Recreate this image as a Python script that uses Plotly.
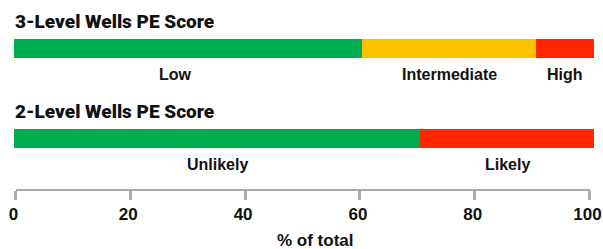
import plotly.graph_objects as go

W, H = 603, 249

# ---- data ----
groups = ["3-Level Wells PE Score", "2-Level Wells PE Score"]
seg_labels = [["Low", "Intermediate", "High"], ["Unlikely", "Likely"]]
seg_values = [[60, 30, 10], [70, 30]]
seg_colors = [["#00AD4E", "#FFC000", "#FF2600"], ["#00AD4E", "#FF2600"]]
tick_vals = [0, 20, 40, 60, 80, 100]
axis_title = "% of total"

def px(p):
    return p / W

def py(p):
    return 1 - p / H

fig = go.Figure()

label_font = dict(family="Liberation Sans", size=16, color="#111111", weight=700)
title_font = dict(family="Roboto", size=19, color="#111111", weight=900)

ann = []
title_y = [21.5, 111.5]
label_y = [74.5, 164.5]
label_shift = {"Low": -13}
for gi, g in enumerate(groups):
    base = 0
    for lab, val, col in zip(seg_labels[gi], seg_values[gi], seg_colors[gi]):
        fig.add_trace(go.Bar(
            x=[val], y=[gi], base=[base], orientation="h",
            marker=dict(color=col, line=dict(width=0)),
            width=19 / 90, showlegend=False, hoverinfo="skip",
            xaxis="x", yaxis="y",
        ))
        ann.append(dict(
            x=base + val / 2, xref="x", y=py(label_y[gi]), yref="paper",
            text=lab, showarrow=False, font=label_font,
            xanchor="center", yanchor="middle", xshift=label_shift.get(lab, 0),
        ))
        base += val
    ann.append(dict(
        x=px(13), xref="paper", y=py(title_y[gi]), yref="paper",
        text=g, showarrow=False, font=title_font,
        xanchor="left", yanchor="middle",
    ))

ann.append(dict(
    x=px(315), xref="paper", y=py(240.5), yref="paper",
    text=axis_title, showarrow=False,
    font=dict(family="Liberation Sans", size=17, color="#111111", weight=700),
    xanchor="center", yanchor="middle",
))

# invisible trace to hold the tick axis
fig.add_trace(go.Scatter(x=[tick_vals[0], tick_vals[-1]], y=[0, 0], mode="markers",
                         marker=dict(opacity=0), showlegend=False, hoverinfo="skip",
                         xaxis="x2", yaxis="y2"))

fig.update_layout(
    width=W, height=H,
    margin=dict(l=0, r=0, t=0, b=0, autoexpand=False),
    paper_bgcolor="white", plot_bgcolor="rgba(0,0,0,0)",
    barmode="overlay",
    xaxis=dict(domain=[px(14), px(594)], range=[0, 100], visible=False, fixedrange=True),
    yaxis=dict(domain=[py(183.5), py(3.5)], range=[1.5, -0.5], visible=False, fixedrange=True),
    yaxis2=dict(domain=[py(190), py(185)], range=[-1, 1], visible=False, fixedrange=True, anchor="x2"),
    xaxis2=dict(
        domain=[px(15.5), px(589.5)], range=[0, 100], anchor="free", position=py(190),
        showline=True, linecolor="#AAAAAA", linewidth=2,
        ticks="outside", ticklen=9, tickwidth=3, tickcolor="#AAAAAA",
        tickvals=tick_vals, ticktext=[str(v) for v in tick_vals],
        tickfont=dict(family="Liberation Sans", size=17, color="#111111", weight=700),
        ticklabeloverflow="allow", ticklabelshift=-2,
        showgrid=False, zeroline=False, fixedrange=True, automargin=False,
    ),
    annotations=ann,
)

fig.write_html("out.html", config={"displayModeBar": False},
               post_script="document.body.style.margin='0';")
